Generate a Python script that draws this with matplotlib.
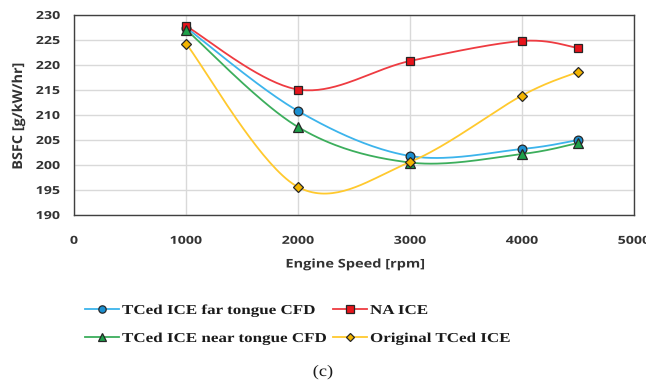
import numpy as np
import matplotlib
matplotlib.use("Agg")
import matplotlib.pyplot as plt
from matplotlib.lines import Line2D
from matplotlib.patheffects import AbstractPathEffect
from matplotlib.transforms import Affine2D

# Engine speed [rpm] and BSFC [g/kW/hr] per configuration
speed = [1000, 2000, 3000, 4000, 4500]
far_tongue = [227.5, 210.8, 201.8, 203.2, 205.0]
na_ice = [227.8, 215.1, 220.8, 224.8, 223.4]
near_tongue = [227.1, 207.6, 200.5, 202.2, 204.4]
original_tc = [224.3, 195.6, 200.6, 213.9, 218.6]

xticks = [0, 1000, 2000, 3000, 4000, 5000]
yticks = [190, 195, 200, 205, 210, 215, 220, 225, 230]

W, H = 646, 392


class Stretch(AbstractPathEffect):
    """Widen glyphs along the text direction, anchored left/center/right."""

    def __init__(self, sx, anchor="center"):
        super().__init__()
        self.sx = sx
        self.anchor = anchor

    def draw_path(self, renderer, gc, tpath, affine, rgbFace=None):
        ext = tpath.get_extents()
        if self.anchor == "left":
            cx = 0.0
        elif self.anchor == "right":
            cx = ext.x1
        else:
            cx = 0.5 * (ext.x0 + ext.x1)
        t = Affine2D().translate(-cx, 0).scale(self.sx, 1).translate(cx, 0)
        renderer.draw_path(gc, tpath, t + affine, rgbFace)


def fx(px):
    return px / W


def fy(py):
    return 1 - py / H


fig = plt.figure(figsize=(W / 100, H / 100), dpi=100)
ax = fig.add_axes([fx(74), fy(215), 560 / W, 200 / H])
ax.set_xlim(0, 5000)
ax.set_ylim(190, 230)

# data -> approx pixel scale, so the smoothing is done in screen space
SX, SY = 560 / 5000, 200 / 40


def smooth(xs, ys, n=40):
    """Catmull-Rom style Bezier smoothing through the given points."""
    p = np.column_stack([np.asarray(xs) * SX, np.asarray(ys) * SY])
    pts = np.vstack([p[0], p, p[-1]])
    out = []
    for i in range(1, len(pts) - 2):
        p0, p1, p2, p3 = pts[i - 1], pts[i], pts[i + 1], pts[i + 2]
        c1 = p1 + (p2 - p0) / 6
        c2 = p2 - (p3 - p1) / 6
        t = np.linspace(0, 1, n)[:, None]
        seg = ((1 - t) ** 3) * p1 + 3 * ((1 - t) ** 2) * t * c1 \
            + 3 * (1 - t) * t ** 2 * c2 + t ** 3 * p2
        out.append(seg if i == 1 else seg[1:])
    out = np.vstack(out)
    return out[:, 0] / SX, out[:, 1] / SY


series = [
    ("TCed ICE far tongue CFD", far_tongue, "#3cb4ec", "#1b8fd0", "o", 6.3),
    ("NA ICE", na_ice, "#ee3b41", "#e8141b", "s", 6.1),
    ("TCed ICE near tongue CFD", near_tongue, "#3cae5c", "#1ea04a", "^", 6.8),
    ("Original TCed ICE", original_tc, "#ffc92e", "#f3b400", "D", 5.4),
]

style = {}
for label, vals, lc, mc, mk, ms in series:
    sx, sy = smooth(speed, vals)
    ax.plot(sx, sy, color=lc, lw=1.3, zorder=3)
    ax.plot(speed, vals, linestyle="none", marker=mk, ms=ms, mfc=mc,
            mec="#262626", mew=0.9, zorder=4)
    style[label] = (lc, mc, mk, ms)

ax.set_xticks(xticks)
ax.set_yticks(yticks)
ax.grid(True, color="#d9d9d9", lw=1.0, zorder=0)
ax.set_axisbelow(True)
ax.tick_params(axis="x", length=0, pad=15)
ax.tick_params(axis="y", length=0, pad=10)
for s in ax.spines.values():
    s.set_color("#404040")
    s.set_linewidth(1.0)

for t in ax.get_xticklabels():
    t.set_fontfamily("Open Sans")
    t.set_fontweight("bold")
    t.set_fontsize(8)
    t.set_color("#333333")
    t.set_path_effects([Stretch(1.28, "center")])
for t in ax.get_yticklabels():
    t.set_fontfamily("Open Sans")
    t.set_fontweight("bold")
    t.set_fontsize(8)
    t.set_color("#333333")
    t.set_path_effects([Stretch(1.28, "right")])

fig.text(fx(355), fy(264), "Engine Speed [rpm]", ha="center", va="center",
         family="Open Sans", weight="bold", size=8.6, color="#333333",
         path_effects=[Stretch(1.22, "center")])
fig.text(fx(18), fy(116), "BSFC [g/kW/hr]", ha="center", va="center",
         rotation=90, family="Open Sans", weight="bold", size=9.8,
         color="#333333", path_effects=[Stretch(1.06, "center")])

# legend, two columns
legend_rows = [
    ("TCed ICE far tongue CFD", 85, 309),
    ("TCed ICE near tongue CFD", 85, 337),
    ("NA ICE", 333, 309),
    ("Original TCed ICE", 333, 337),
]
for label, x0, y0 in legend_rows:
    lc, mc, mk, ms = style[label]
    fig.add_artist(Line2D([fx(x0), fx(x0 + 34)], [fy(y0), fy(y0)],
                          transform=fig.transFigure, color=lc, lw=1.3))
    fig.add_artist(Line2D([fx(x0 + 17)], [fy(y0)], transform=fig.transFigure,
                          linestyle="none", marker=mk, ms=ms - 1.0, mfc=mc,
                          mec="#262626", mew=0.9))
    fig.text(fx(x0 + 37), fy(y0), label, ha="left", va="center_baseline",
             family="Liberation Serif", weight="bold", size=9.8,
             color="#1a1a1a", path_effects=[Stretch(1.25, "left")])

fig.text(fx(323), fy(372), "(c)", ha="center", va="center",
         family="Liberation Serif", size=11.5, color="#1a1a1a",
         path_effects=[Stretch(1.15, "center")])

fig.savefig("out.png", dpi=100)
